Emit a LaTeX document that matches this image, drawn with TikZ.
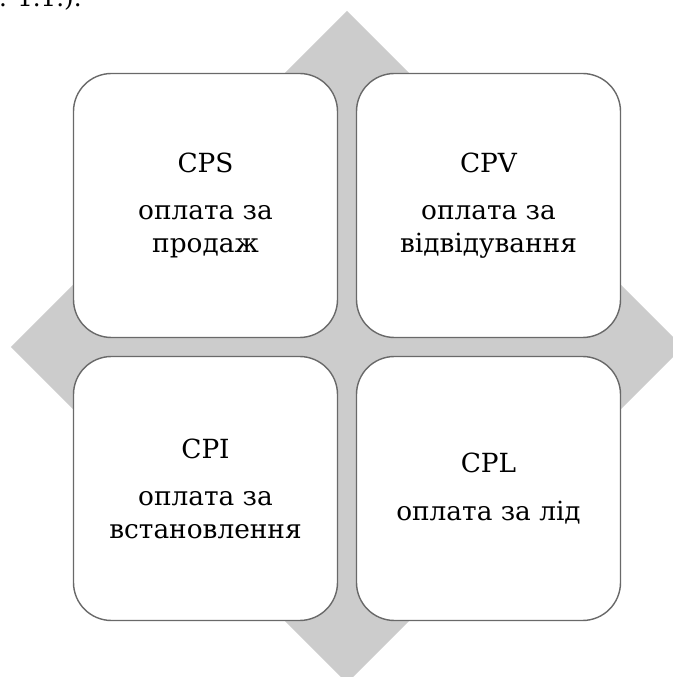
\documentclass[tikz,border=0pt]{standalone}
\usepackage{fontspec}
\setmainfont{DejaVu Serif}
\usetikzlibrary{calc}
\definecolor{diamondgrey}{RGB}{204,204,204}
\definecolor{edgegrey}{RGB}{105,105,105}
\tikzset{%
    cell/.style={
		draw=edgegrey, line width=0.8pt, fill=white,
		rounded corners=0.76cm,
		minimum width=5.28cm, minimum height=5.28cm,
		align=center, font=\fontsize{15}{18.8}\selectfont
	}
}
\tikzset{caption/.style={anchor=base east, inner sep=0pt, font=\fontsize{14}{17}\selectfont}}

\begin{document}
\begin{tikzpicture}
		% Page frame, the diamond runs past the right and bottom
		\useasboundingbox (-6.94,-6.60) rectangle (6.52,6.94);
		\clip (-6.94,-6.60) rectangle (6.52,6.94);

		\node[caption] (ref) at (-5.3,6.8) {рис. 1.1.).};

		\coordinate (top) at (0,6.72);
		\coordinate (left) at (-6.72,0);	\coordinate (right) at (6.72,0);
		\coordinate (bottom) at (0,-6.72);

		\fill[diamondgrey] (top) -- (right) -- (bottom) -- (left) -- cycle;

		\node[cell] (cps) at (-2.83,2.83) {CPS\\[8pt]оплата за\\продаж};		\node[cell] (cpv) at (2.83,2.83) {CPV\\[8pt]оплата за\\відвідування};
		\node[cell] (cpi) at (-2.83,-2.83) {CPI\\[8pt]оплата за\\встановлення};	\node[cell] (cpl) at (2.83,-2.83) {CPL\\[8pt]оплата за лід};

	\end{tikzpicture}
\end{document}
